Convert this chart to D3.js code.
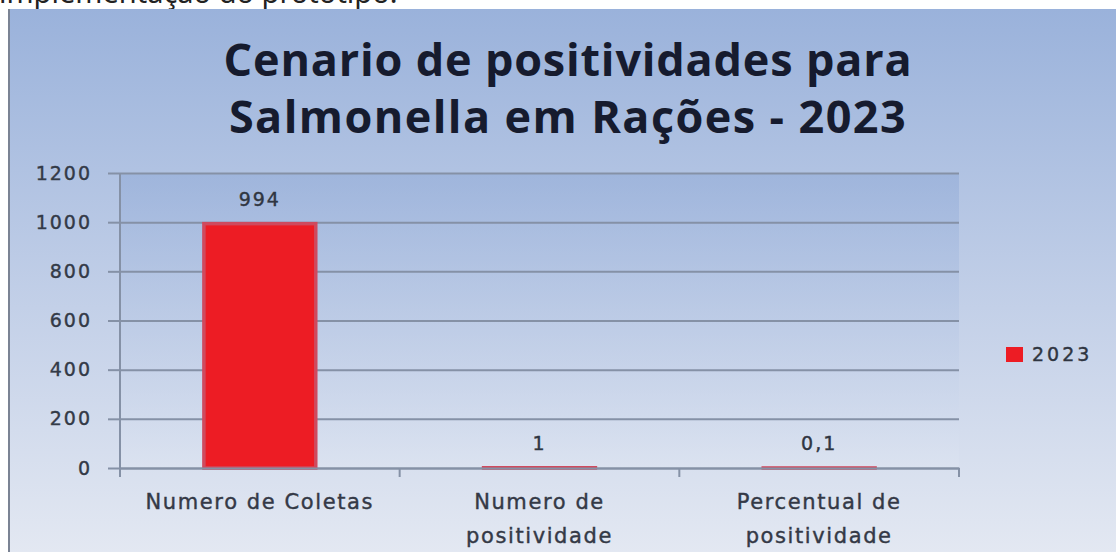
<!DOCTYPE html>
<html>
<head>
<meta charset="utf-8">
<script src="https://cdn.jsdelivr.net/npm/d3@7"></script>
<style>
  body { margin: 0; background: #fff; overflow: hidden; }
  svg { display: block; }
</style>
</head>
<body>
<svg id="chart"></svg>
<script>
// Data
const categories = [["Numero de Coletas"], ["Numero de", "positividade"], ["Percentual de", "positividade"]];
const values2023 = [994, 1, 0.1];
const valueLabels = ["994", "1", "0,1"];
const yTicks = [0, 200, 400, 600, 800, 1000, 1200];
const seriesName = "2023";
const titleLines = ["Cenario de positividades para", "Salmonella em Rações - 2023"];

const W = 1116, H = 552;
const svg = d3.select("svg#chart").attr("width", W).attr("height", H);

// Background gradient for the chart picture
const defs = svg.append("defs");
const bg = defs.append("linearGradient").attr("id", "bg").attr("x1", 0).attr("y1", 0).attr("x2", 0).attr("y2", 1);
bg.append("stop").attr("offset", "0%").attr("stop-color", "#9ab2db");
bg.append("stop").attr("offset", "55%").attr("stop-color", "#c3d0e8");
bg.append("stop").attr("offset", "100%").attr("stop-color", "#e3e8f2");

const plotBg = defs.append("linearGradient").attr("id", "plotbg").attr("x1", 0).attr("y1", 0).attr("x2", 0).attr("y2", 1);
plotBg.append("stop").attr("offset", "0%").attr("stop-color", "#93acd8");
plotBg.append("stop").attr("offset", "100%").attr("stop-color", "#dde4f1");

// cut-off text from the page above the chart
svg.append("text")
    .attr("x", -1).attr("y", 3)
    .attr("font-family", "Noto Sans")
    .attr("font-size", "29px")
    .attr("fill", "#222")
    .text("implementação do protótipo.");

svg.append("rect").attr("x", 9).attr("y", 9).attr("width", W - 9).attr("height", H - 9).attr("fill", "url(#bg)");
svg.append("rect").attr("x", 8).attr("y", 9).attr("width", 2).attr("height", H - 9).attr("fill", "#7b8394");

// Title
svg.append("g").selectAll("text")
    .data(titleLines)
    .enter()
    .append("text")
    .attr("x", 568)
    .attr("y", (d, i) => 76 + i * 57)
    .attr("text-anchor", "middle")
    .attr("font-family", "Open Sans")
    .attr("font-weight", "bold")
    .attr("font-size", "45px")
    .attr("letter-spacing", (d, i) => i === 0 ? "0.8px" : "1.4px")
    .attr("fill", "#161b2e")
    .text(d => d);

const margin = { left: 120, right: 157, top: 173, bottom: 84 };
const width = W - margin.left - margin.right;
const height = H - margin.top - margin.bottom;

const g = svg.append("g").attr("transform", `translate(${margin.left}, ${margin.top})`);

const xScale = d3.scaleBand().domain(d3.range(categories.length)).range([0, width]).paddingInner(0.6).paddingOuter(0.3);
const xAxisScale = d3.scaleBand().domain(d3.range(categories.length)).range([0, width]);
const yScale = d3.scaleLinear().domain([0, 1200]).range([height, 0]);

g.append("rect").attr("width", width).attr("height", height).attr("fill", "url(#plotbg)").attr("opacity", 0.6);

// gridlines
g.append("g")
    .call(d3.axisLeft(yScale).tickValues(yTicks).tickSize(-width).tickFormat(""))
    .call(s => s.select(".domain").remove())
    .selectAll("line")
    .attr("stroke", "#8591a6")
    .attr("stroke-width", 2);

// Y axis
const yAxis = g.append("g")
    .call(d3.axisLeft(yScale).tickValues(yTicks).tickFormat(d3.format("d")).tickSize(12).tickPadding(16));
yAxis.select(".domain").attr("stroke", "#8591a6").attr("stroke-width", 2).attr("d", `M0,${height + 8}V0`);
yAxis.selectAll("line").attr("stroke", "#8591a6").attr("stroke-width", 2);
yAxis.selectAll("text")
    .attr("font-family", "DejaVu Sans")
    .attr("font-size", "19px")
    .attr("letter-spacing", "2px")
    .attr("fill", "#333a47")
    .attr("stroke", "#333a47")
    .attr("stroke-width", 0.4);

// Bars
g.append("g").selectAll("rect")
    .data(values2023)
    .enter()
    .append("rect")
    .attr("x", (d, i) => xScale(i))
    .attr("y", d => yScale(d))
    .attr("width", xScale.bandwidth())
    .attr("height", d => height - yScale(d))
    .attr("fill", "#ed1c24")
    .attr("stroke", "#cf4a5e")
    .attr("stroke-width", 3.5);

// X axis
const xAxis = g.append("g")
    .attr("transform", `translate(0, ${height})`)
    .call(d3.axisBottom(xAxisScale).tickSize(0).tickFormat(""));
xAxis.select(".domain").attr("stroke", "#8591a6").attr("stroke-width", 2);
xAxis.selectAll(".cat-tick")
    .data(d3.range(categories.length + 1))
    .enter()
    .append("line")
    .attr("x1", i => i * xAxisScale.step())
    .attr("x2", i => i * xAxisScale.step())
    .attr("y1", 0).attr("y2", 9)
    .attr("stroke", "#8591a6")
    .attr("stroke-width", 2);

// category labels
const catLabels = g.append("g").selectAll("text")
    .data(categories)
    .enter()
    .append("text")
    .attr("x", (d, i) => xAxisScale(i) + xAxisScale.bandwidth() / 2)
    .attr("y", height + 41)
    .attr("text-anchor", "middle")
    .attr("font-family", "DejaVu Sans")
    .attr("font-size", "21px")
    .attr("letter-spacing", "1.6px")
    .attr("fill", "#343946")
    .attr("stroke", "#343946")
    .attr("stroke-width", 0.4);
catLabels.selectAll("tspan")
    .data(d => d)
    .enter()
    .append("tspan")
    .attr("x", function() { return this.parentNode.getAttribute("x"); })
    .attr("dy", (d, i) => i === 0 ? 0 : 34)
    .text(d => d);

// data labels
g.append("g").selectAll("text")
    .data(values2023)
    .enter()
    .append("text")
    .attr("x", (d, i) => xScale(i) + xScale.bandwidth() / 2)
    .attr("y", d => yScale(d) - 18)
    .attr("text-anchor", "middle")
    .attr("font-family", "DejaVu Sans")
    .attr("font-size", "19px")
    .attr("letter-spacing", "2px")
    .attr("fill", "#2f3541")
    .attr("stroke", "#2f3541")
    .attr("stroke-width", 0.4)
    .text((d, i) => valueLabels[i]);

// Legend
const legend = svg.append("g").attr("transform", "translate(1006, 354)");
legend.append("rect").attr("x", 0).attr("y", -7).attr("width", 17).attr("height", 15).attr("fill", "#ed1c24");
legend.append("text")
    .attr("x", 26).attr("y", 7)
    .attr("font-family", "DejaVu Sans")
    .attr("font-size", "19px")
    .attr("letter-spacing", "3px")
    .attr("fill", "#2f3541")
    .attr("stroke", "#2f3541")
    .attr("stroke-width", 0.4)
    .text(seriesName);
</script>
</body>
</html>
